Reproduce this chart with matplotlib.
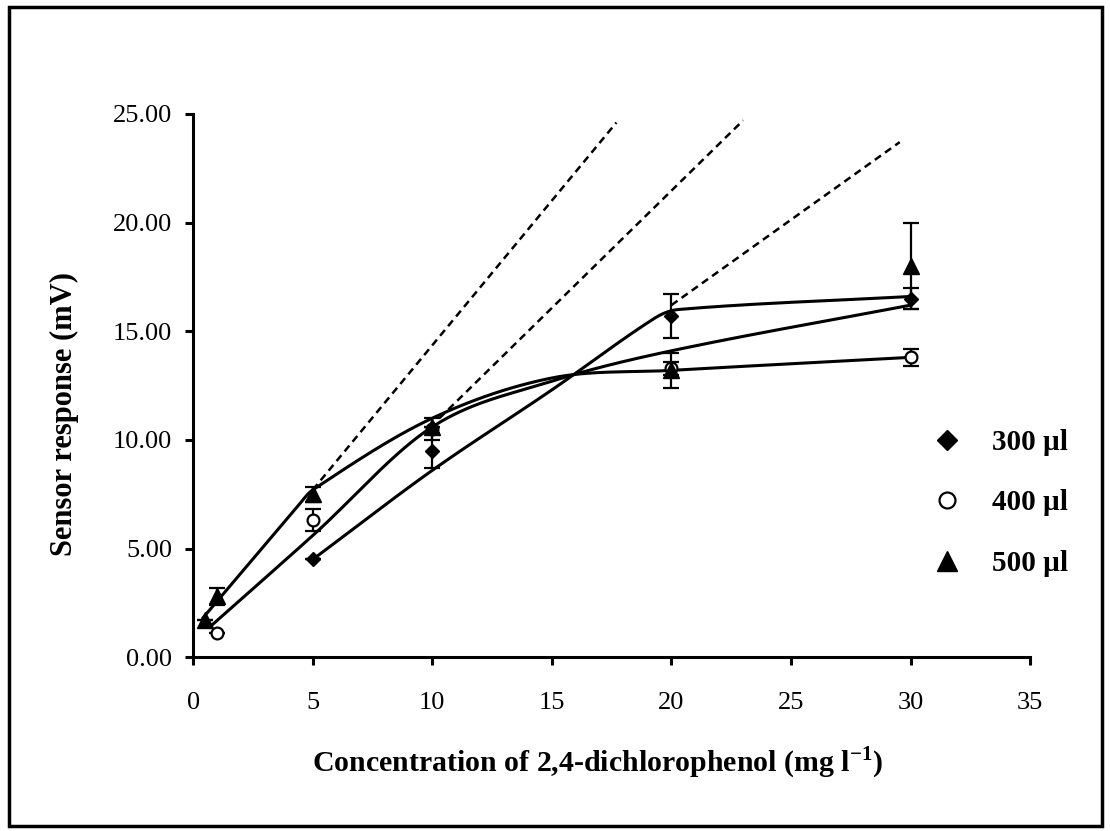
import numpy as np
import matplotlib
matplotlib.use("Agg")
import matplotlib.pyplot as plt
from matplotlib.patches import Rectangle

plt.rcParams['font.family'] = ['Liberation Serif', 'DejaVu Serif']

# measured points (mean, error)
x300 = [5, 10, 20, 30]
y300 = [4.5, 9.5, 15.7, 16.5]
e300 = [0.0, 0.8, 1.0, 0.5]

x400 = [1, 5, 10, 20, 30]
y400 = [1.1, 6.3, 10.5, 13.3, 13.8]
e400 = [0.0, 0.5, 0.5, 0.3, 0.4]

x500 = [0.5, 1, 5, 10, 20, 30]
y500 = [1.7, 2.8, 7.5, 10.6, 13.2, 18.0]
e500 = [0.0, 0.4, 0.35, 0.0, 0.8, 2.0]

# fitted curves, anchor points
curve_a_x = [0.4, 4.3, 5, 10, 15, 20, 30]
curve_a_y = [1.8, 6.85, 7.7, 11.0, 12.85, 13.2, 13.8]
curve_b_x = [0.7, 5, 10, 15, 20, 30]
curve_b_y = [1.4, 5.6, 10.6, 12.7, 14.1, 16.2]
curve_c_x = [5, 10, 15, 19.3, 20.3, 30]
curve_c_y = [4.5, 8.6, 12.3, 15.6, 16.0, 16.6]

# linear range (dashed) segments
dash_x = [[5, 17.7], [10.3, 23.0], [20, 29.55]]
dash_y = [[7.7, 24.6], [11.0, 24.7], [16.2, 23.7]]

labels = ['300 \u00b5l', '400 \u00b5l', '500 \u00b5l']


def smooth(xs, ys, n=40):
    # cubic hermite in x with finite-difference slopes
    xs = np.asarray(xs, float)
    ys = np.asarray(ys, float)
    m = np.gradient(ys, xs)
    m[1:-1] = (ys[2:] - ys[:-2]) / (xs[2:] - xs[:-2])
    ox, oy = [], []
    for i in range(len(xs) - 1):
        h = xs[i + 1] - xs[i]
        t = np.linspace(0, 1, n)
        h00 = 2 * t ** 3 - 3 * t ** 2 + 1
        h10 = t ** 3 - 2 * t ** 2 + t
        h01 = -2 * t ** 3 + 3 * t ** 2
        h11 = t ** 3 - t ** 2
        ox.append(xs[i] + t * h)
        oy.append(h00 * ys[i] + h10 * h * m[i] + h01 * ys[i + 1] + h11 * h * m[i + 1])
    return np.concatenate(ox), np.concatenate(oy)


fig = plt.figure(figsize=(11.1, 8.31), dpi=100)
ax = fig.add_axes([0.174, 0.209, 0.754, 0.654])

for cx, cy in [(curve_a_x, curve_a_y), (curve_b_x, curve_b_y), (curve_c_x, curve_c_y)]:
    sx, sy = smooth(cx, cy)
    ax.plot(sx, sy, color='black', lw=2.2, solid_capstyle='round', zorder=2)

for dx, dy in zip(dash_x, dash_y):
    ax.plot(dx, dy, color='black', lw=1.8, linestyle=(0, (3, 2)), zorder=2)

ekw = dict(ecolor='black', elinewidth=1.6, capsize=6, capthick=1.6, linestyle='none', zorder=3)
h1 = ax.errorbar(x300, y300, yerr=e300, fmt='D', ms=7.5, mfc='black', mec='black', **ekw)
h2 = ax.errorbar(x400, y400, yerr=e400, fmt='o', ms=8.5, mfc='white', mec='black', mew=1.6, **ekw)
h3 = ax.errorbar(x500, y500, yerr=e500, fmt='^', ms=11, mfc='black', mec='black', **ekw)

ax.set_xlim(0, 35)
ax.set_ylim(0, 25)
ax.set_xticks(np.arange(0, 36, 5))
ax.set_yticks(np.arange(0, 26, 5))
ax.set_yticklabels(['%.2f' % v for v in np.arange(0, 26, 5)])

for s in ['top', 'right']:
    ax.spines[s].set_visible(False)
for s in ['left', 'bottom']:
    ax.spines[s].set_linewidth(2.2)
ax.tick_params(direction='out', length=6, width=2.2, labelsize=19)
ax.tick_params(axis='x', pad=19)
ax.tick_params(axis='y', pad=9)

ax.set_xlabel('Concentration of 2,4-dichlorophenol (mg l$^{\\mathregular{-1}}$)',
              fontsize=21.5, fontweight='bold')
ax.set_ylabel('Sensor response (mV)', fontsize=22, fontweight='bold')
ax.xaxis.set_label_coords(0.483, -0.16)
ax.yaxis.set_label_coords(-0.136, 0.448)

leg = ax.legend([h1[0], h2[0], h3[0]], labels, loc='center left', bbox_to_anchor=(0.848, 0.284),
                frameon=False, markerscale=1.35, handlelength=1.2, handletextpad=0.95,
                labelspacing=1.15, prop={'weight': 'bold', 'size': 21})

fig.patches.append(Rectangle((0.008, 0.006), 0.985, 0.985, transform=fig.transFigure,
                             fill=False, edgecolor='black', lw=2.5))

fig.savefig('out.png', dpi=100)
